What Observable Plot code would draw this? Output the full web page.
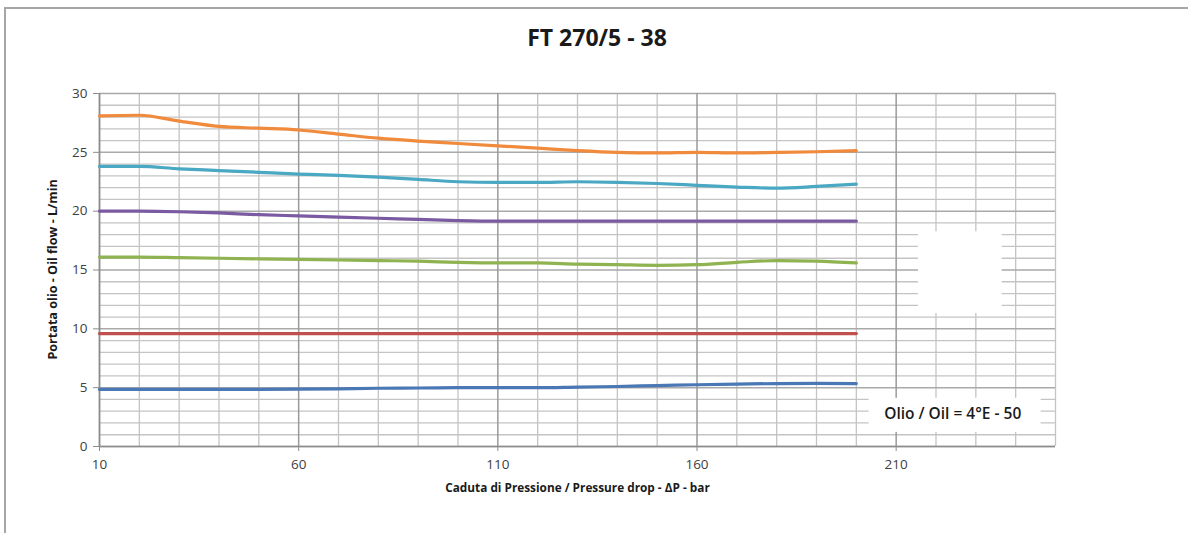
<!DOCTYPE html>
<html>
<head>
<meta charset="utf-8">
<script src="https://cdn.jsdelivr.net/npm/d3@7"></script>
<script src="https://cdn.jsdelivr.net/npm/@observablehq/plot@0.6"></script>
<style>
  html, body { margin: 0; padding: 0; background: #fff; }
  #page { position: relative; width: 1188px; height: 533px; overflow: hidden; font-family: "Open Sans", "Noto Sans", sans-serif; }
  #border { position: absolute; left: 4px; top: 7px; right: -10px; bottom: -10px; border-top: 2px solid #a6a6a6; border-left: 2px solid #a6a6a6; pointer-events: none; }
  #title { height: 62px; line-height: 74px; text-align: center; font-weight: 700; font-size: 23px; color: #1a1a1a; padding-left: 6px; }
  #chart svg { display: block; }
</style>
</head>
<body>
<div id="page">
  <div id="border"></div>
  <div id="title">FT 270/5 - 38</div>
  <div id="chart"></div>
</div>
<script>
// Pressure drop (bar)
const pressure = [10, 20, 30, 40, 50, 60, 70, 80, 90, 100, 110, 120, 130, 140, 150, 160, 170, 180, 190, 200];
// Oil flow series (L/min)
const flowOrange = [28.1, 28.15, 27.65, 27.2, 27.05, 26.9, 26.55, 26.2, 25.95, 25.75, 25.55, 25.35, 25.15, 25.0, 24.95, 25.0, 24.95, 25.0, 25.05, 25.15];
const flowCyan   = [23.8, 23.8, 23.6, 23.45, 23.3, 23.15, 23.05, 22.9, 22.7, 22.5, 22.45, 22.45, 22.5, 22.45, 22.35, 22.2, 22.05, 21.95, 22.1, 22.3];
const flowPurple = [20.0, 20.0, 19.95, 19.85, 19.7, 19.6, 19.5, 19.4, 19.3, 19.2, 19.15, 19.15, 19.15, 19.15, 19.15, 19.15, 19.15, 19.15, 19.15, 19.15];
const flowGreen  = [16.1, 16.1, 16.05, 16.0, 15.95, 15.9, 15.85, 15.8, 15.75, 15.65, 15.6, 15.6, 15.5, 15.45, 15.4, 15.45, 15.65, 15.8, 15.75, 15.6];
const flowRed    = [9.6, 9.6, 9.6, 9.6, 9.6, 9.6, 9.6, 9.6, 9.6, 9.6, 9.6, 9.6, 9.6, 9.6, 9.6, 9.6, 9.6, 9.6, 9.6, 9.6];
const flowBlue   = [4.85, 4.85, 4.85, 4.86, 4.86, 4.87, 4.9, 4.95, 4.97, 5.0, 5.0, 5.0, 5.05, 5.1, 5.18, 5.25, 5.3, 5.35, 5.36, 5.35];

const seriesNames  = ["S1", "S2", "S3", "S4", "S5", "S6"];
const seriesValues = [flowOrange, flowCyan, flowPurple, flowGreen, flowRed, flowBlue];
const seriesColors = ["#f08a3c", "#4aa8c3", "#7a5aa0", "#8fb350", "#c0504d", "#4a78b5"];

// Axis ticks
const xTickLabels = [10, 60, 110, 160, 210];
const yTickLabels = [0, 5, 10, 15, 20, 25, 30];
const xGrid = d3.range(10, 251, 10);
const yGrid = d3.range(0, 31, 1);

// Annotation: oil note and its white box (data units)
const noteText = ["Olio / Oil = 4°E - 50"];
const noteX = [224.2];
const noteY = [2.75];
const noteBoxX = [203.2, 246.4];
const noteBoxY = [1.2, 4.1];
// White patch (watermark mask) covering part of the grid
const maskX = [215.6, 236.6];
const maskY = [11.3, 18.25];

const rows = [];
seriesNames.forEach((name, i) => {
  pressure.forEach((p, j) => rows.push({series: name, x: p, y: seriesValues[i][j]}));
});

const tickColor = "#8c8c8c";
const plot = Plot.plot({
  width: 1188,
  height: 471,
  marginTop: 31,
  marginLeft: 99,
  marginRight: 133,
  marginBottom: 87,
  style: {fontFamily: "'Open Sans', 'Noto Sans', sans-serif", fontSize: "12px", color: "#404040", background: "transparent"},
  x: {domain: [10, 250], label: null},
  y: {domain: [0, 30], label: null},
  color: {domain: seriesNames, range: seriesColors},
  marks: [
    Plot.ruleX(xGrid.filter(v => (v - 10) % 50 !== 0), {stroke: "#c4c4c4", strokeWidth: 1.3}),
    Plot.ruleY(yGrid.filter(v => v % 5 !== 0), {stroke: "#c4c4c4", strokeWidth: 1.3}),
    Plot.ruleY(yGrid.filter(v => v % 5 === 0), {stroke: "#a9a9a9", strokeWidth: 1.5}),
    Plot.ruleX(xGrid.filter(v => (v - 10) % 50 === 0), {stroke: "#9a9a9a", strokeWidth: 1.5}),
    Plot.rect([0], {x1: () => maskX[0], x2: () => maskX[1], y1: () => maskY[0], y2: () => maskY[1], fill: "white"}),
    Plot.axisX({ticks: xTickLabels, tickSize: 5, tickPadding: 8, tickFormat: d => d, stroke: tickColor, fontSize: 13.5, label: null}),
    Plot.axisY({ticks: yTickLabels, tickSize: 6, tickPadding: 6, tickFormat: d => d, stroke: tickColor, fontSize: 13.5, label: null}),
    Plot.ruleX([10], {stroke: "#8c8c8c", strokeWidth: 1.5}),
    Plot.ruleY([0], {stroke: "#8c8c8c", strokeWidth: 1.5}),
    Plot.line(rows, {x: "x", y: "y", z: "series", stroke: "series", strokeWidth: 3.2, curve: "monotone-x"}),
    Plot.rect([0], {x1: () => noteBoxX[0], x2: () => noteBoxX[1], y1: () => noteBoxY[0], y2: () => noteBoxY[1], fill: "white"}),
    Plot.text(noteText, {x: (d, i) => noteX[i], y: (d, i) => noteY[i], text: d => d, fontSize: 15.5, fontWeight: 600, fill: "#1a1a1a"}),
    Plot.text(["Caduta di Pressione / Pressure drop - ΔP - bar"], {x: 130, y: 0, frameAnchor: "bottom", dy: 45, text: d => d, fontSize: 11.8, fontWeight: 700, fill: "#1a1a1a"}),
    Plot.text(["Portata olio - Oil flow - L/min"], {frameAnchor: "left", y: 15.05, dx: -47, rotate: -90, textAnchor: "middle", text: d => d, fontSize: 12.6, fontWeight: 700, fill: "#1a1a1a"})
  ]
});
document.getElementById("chart").appendChild(plot);
</script>
</body>
</html>
